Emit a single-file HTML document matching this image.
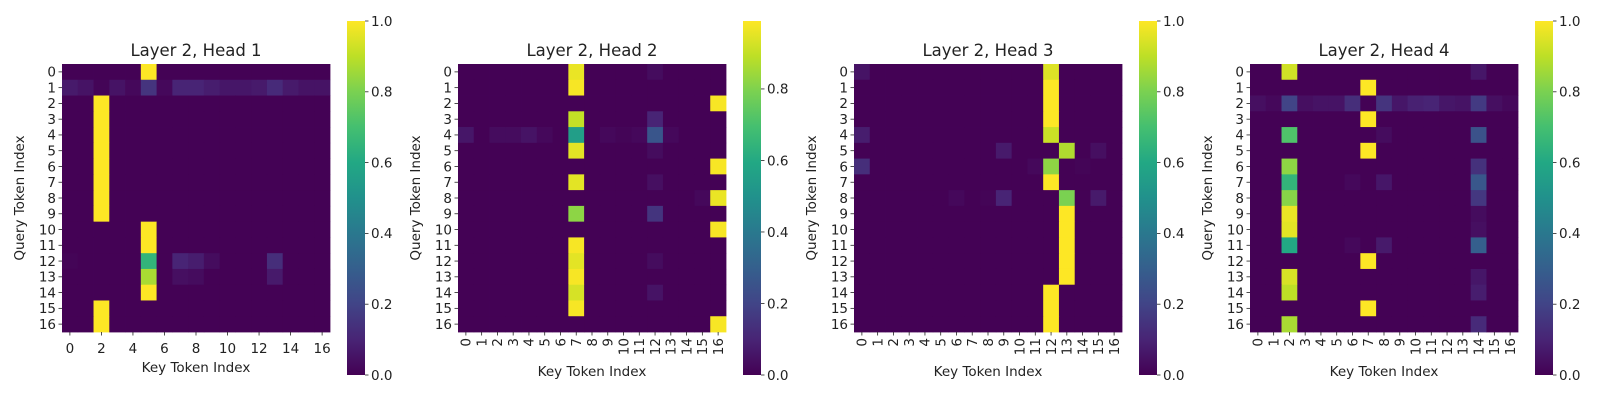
<!DOCTYPE html>
<html><head><meta charset="utf-8">
<style>
html,body{margin:0;padding:0;background:#fff;}
svg{display:block;font-family:"DejaVu Sans","Liberation Sans",sans-serif;}
</style></head>
<body>
<svg id="fig" width="1600" height="400" viewBox="0 0 1600 400" xmlns="http://www.w3.org/2000/svg">
<defs>
<linearGradient id="viridis" x1="0" y1="1" x2="0" y2="0">
<stop offset="0" stop-color="#440154"/><stop offset="0.1" stop-color="#482475"/><stop offset="0.2" stop-color="#414487"/><stop offset="0.3" stop-color="#355f8d"/><stop offset="0.4" stop-color="#2a788e"/><stop offset="0.5" stop-color="#21918c"/><stop offset="0.6" stop-color="#22a884"/><stop offset="0.7" stop-color="#44bf70"/><stop offset="0.8" stop-color="#7ad151"/><stop offset="0.9" stop-color="#bddf26"/><stop offset="1" stop-color="#fde725"/>
</linearGradient>
</defs>
</svg>
<script>
// token indices (categories)
const tokens = [0,1,2,3,4,5,6,7,8,9,10,11,12,13,14,15,16];
const panelTitles = ["Layer 2, Head 1","Layer 2, Head 2","Layer 2, Head 3","Layer 2, Head 4"];
const cbarTicks = [0.0,0.2,0.4,0.6,0.8,1.0];
const vmaxes = [1.0,0.99,1.0,1.0];
// sparse cell values: [query row, key col, weight]; unlisted cells ~0
const head1 = [[0,5,1.0],
 [1,0,0.07],[1,1,0.05],[1,2,0.01],[1,3,0.05],[1,4,0.02],[1,5,0.15],[1,6,0.02],[1,7,0.1],[1,8,0.1],[1,9,0.08],[1,10,0.06],[1,11,0.06],[1,12,0.07],[1,13,0.12],[1,14,0.07],[1,15,0.05],[1,16,0.05],
 [2,2,1],[3,2,1],[4,2,1],[5,2,1],[6,2,1],[7,2,1],[8,2,1],[9,2,1],[10,5,1],[11,5,1],
 [12,0,0.01],[12,5,0.65],[12,7,0.1],[12,8,0.08],[12,9,0.03],[12,13,0.13],
 [13,5,0.87],[13,7,0.04],[13,8,0.03],[13,13,0.07],[14,5,1],[15,2,1],[16,2,1]];
const head2 = [[0,7,0.96],[0,12,0.03],[1,7,0.98],[2,16,0.98],[3,7,0.9],[3,12,0.1],
 [4,0,0.06],[4,2,0.03],[4,3,0.03],[4,4,0.05],[4,5,0.02],[4,7,0.55],[4,9,0.02],[4,10,0.01],[4,11,0.02],[4,12,0.26],[4,13,0.02],
 [5,7,0.95],[5,12,0.03],[6,16,0.98],[7,7,0.95],[7,12,0.04],[8,15,0.02],[8,16,0.96],[9,7,0.82],[9,12,0.15],[10,16,0.98],
 [11,7,0.98],[12,7,0.95],[12,12,0.03],[13,7,0.98],[14,7,0.93],[14,12,0.05],[15,7,0.98],[16,16,0.98]];
const head3 = [[0,0,0.05],[0,12,0.95],[1,12,1],[2,12,1],[3,12,1],[4,0,0.08],[4,12,0.92],
 [5,9,0.07],[5,13,0.88],[5,15,0.04],[6,0,0.13],[6,11,0.02],[6,12,0.83],[6,14,0.01],[7,12,1],
 [8,6,0.02],[8,8,0.01],[8,9,0.1],[8,13,0.8],[8,15,0.07],
 [9,13,1],[10,13,1],[11,13,1],[12,13,1],[13,13,1],[14,12,1],[15,12,1],[16,12,1]];
const head4 = [[0,2,0.93],[0,14,0.06],[1,7,1],
 [2,0,0.04],[2,1,0.02],[2,2,0.2],[2,3,0.04],[2,4,0.05],[2,5,0.05],[2,6,0.13],[2,8,0.15],[2,9,0.06],[2,10,0.09],[2,11,0.1],[2,12,0.06],[2,13,0.05],[2,14,0.17],[2,15,0.04],[2,16,0.02],
 [3,7,1],[4,2,0.72],[4,8,0.03],[4,14,0.25],[5,7,1],[6,2,0.83],[6,14,0.14],
 [7,2,0.65],[7,6,0.02],[7,8,0.06],[7,14,0.27],[8,2,0.82],[8,14,0.16],[9,2,0.97],[9,14,0.03],[10,2,0.96],[10,14,0.04],
 [11,2,0.6],[11,6,0.02],[11,8,0.07],[11,14,0.3],[12,7,1],[13,2,0.94],[13,14,0.06],[14,2,0.9],[14,14,0.08],[15,7,1],[16,2,0.87],[16,14,0.12]];
const heads = [head1,head2,head3,head4];

const VIR = ["#440154","#482475","#414487","#355f8d","#2a788e","#21918c","#22a884","#44bf70","#7ad151","#bddf26","#fde725"];
function hex(h){return [1,3,5].map(i=>parseInt(h.substr(i,2),16));}
function viridis(t){t=Math.max(0,Math.min(1,t));const p=t*10,i=Math.min(9,Math.floor(p)),f=p-i;const a=hex(VIR[i]),b=hex(VIR[i+1]);return "rgb("+a.map((v,k)=>Math.round(v+(b[k]-v)*f)).join(",")+")";}

const NS="http://www.w3.org/2000/svg";
const svg=document.getElementById("fig");
function el(tag,attrs,parent){const e=document.createElementNS(NS,tag);for(const k in attrs)e.setAttribute(k,attrs[k]);(parent||svg).appendChild(e);return e;}

const hmLeft=[62,458,854,1250], hmTop=64, hmSize=268, cbLeft=[347,743,1139,1535], cbTop=21, cbBot=375, cbW=18;
const n=tokens.length, cell=hmSize/n;

heads.forEach((data,p)=>{
  const g=el("g",{});
  
  
  const L=hmLeft[p], vmax=vmaxes[p];
  const xS=i=>L+i*cell, yS=i=>hmTop+i*cell;
  const grid=tokens.map(()=>tokens.map(()=>0.004));
  data.forEach(([r,c,v])=>{grid[r][c]=v;});
  grid.forEach((row,r)=>row.forEach((v,c)=>{
    const rc=el("rect",{x:xS(c),y:yS(r),width:cell+0.4,height:cell+0.4,fill:viridis(v/vmax)},g);
    
    
  }));
  const t=el("text",{x:L+hmSize/2,y:56,"text-anchor":"middle","font-size":"16.5",fill:"#222"},g);
  t.textContent=panelTitles[p];
  
  
  // y ticks
  tokens.forEach((tk,i)=>{
    const y=yS(i)+cell/2;
    el("line",{x1:L-3.5,x2:L,y1:y,y2:y,stroke:"#222","stroke-width":0.8},g);
    const lb=el("text",{x:L-6,y:y+4.8,"text-anchor":"end","font-size":"13.5",fill:"#222"},g);
    lb.textContent=tk;
    
    
  });
  // x ticks
  const B=hmTop+hmSize;
  tokens.forEach((tk,i)=>{
    if(p===0 && i%2) return;
    const x=xS(i)+cell/2;
    el("line",{x1:x,x2:x,y1:B,y2:B+3.5,stroke:"#222","stroke-width":0.8},g);
    let lb;
    if(p===0){lb=el("text",{x:x,y:B+21,"text-anchor":"middle","font-size":"13.5",fill:"#222"},g);}
    else{lb=el("text",{x:0,y:0,"text-anchor":"end","font-size":"13.5",fill:"#222",transform:"translate("+(x+4.8)+","+(B+6)+") rotate(-90)"},g);}
    lb.textContent=tk;
    
    
  });
  const xl=el("text",{x:L+hmSize/2,y:p===0?372:376,"text-anchor":"middle","font-size":"13.5",fill:"#222"},g);
  xl.textContent="Key Token Index";
  
  
  const yl=el("text",{x:0,y:0,"text-anchor":"middle","font-size":"13.5",fill:"#222",transform:"translate("+(L-38)+","+(hmTop+hmSize/2)+") rotate(-90)"},g);
  yl.textContent="Query Token Index";
  
  
  // colorbar
  const C=cbLeft[p];
  const cb=el("rect",{x:C,y:cbTop,width:cbW,height:cbBot-cbTop,fill:"url(#viridis)"},g);
  
  
  cbarTicks.forEach(v=>{
    if(v>vmax+1e-9) return;
    const y=cbBot-(v/vmax)*(cbBot-cbTop);
    el("line",{x1:C+cbW,x2:C+cbW+3.5,y1:y,y2:y,stroke:"#222","stroke-width":0.8},g);
    const lb=el("text",{x:C+cbW+6,y:y+4.8,"font-size":"13.5",fill:"#222"},g);
    lb.textContent=v.toFixed(1);
    
    
  });
});
</script>
</body></html>
